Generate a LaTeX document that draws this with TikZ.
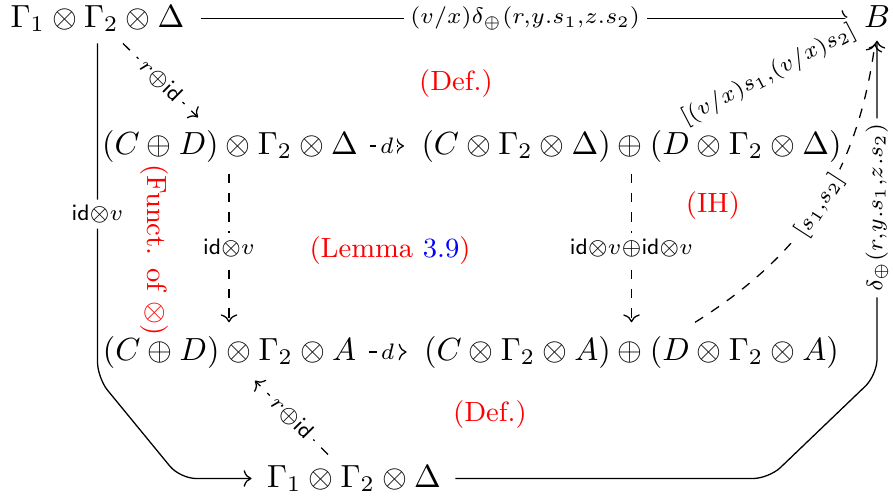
\documentclass[tikz,border=0pt]{standalone}
\usetikzlibrary{arrows.meta,calc}
\begin{document}
\begin{tikzpicture}[x=0.3125pt,y=-0.3125pt,
  >={To},
  obj/.style={anchor=base,inner sep=0pt},
  lab/.style={fill=white,inner sep=1.7pt,anchor=center},
  note/.style={text=red,inner sep=0pt,font=\fontsize{8.7}{10}\selectfont},
  dsh/.style={->,dashed}]
\useasboundingbox (0,0) rectangle (893,502);
% objects
\node[obj] (TL) at (97.5,27) {$\Gamma_1\otimes\Gamma_2\otimes\Delta$};
\node[obj] (B) at (877,27) {$B$};
\node[obj] (L2) at (230,154) {$(C\oplus D)\otimes\Gamma_2\otimes\Delta$};
\node[obj] (R2) at (631.5,154) {$(C\otimes\Gamma_2\otimes\Delta)\oplus(D\otimes\Gamma_2\otimes\Delta)$};
\node[obj] (L3) at (229.5,360) {$(C\oplus D)\otimes\Gamma_2\otimes A$};
\node[obj] (R3) at (631.5,360) {$(C\otimes\Gamma_2\otimes A)\oplus(D\otimes\Gamma_2\otimes A)$};
\node[obj] (BT) at (354,487) {$\Gamma_1\otimes\Gamma_2\otimes\Delta$};
% top arrow
\draw[->] ($(TL.east)+(16,0)$) -- node[lab,inner sep=2.15pt]{$\scriptstyle (v/x)\delta_\oplus(r,y.s_1,z.s_2)$} ($(TL.east -| B.west)+(-14,0)$);
% r+id top
\draw[dsh] ($(TL.south)+(25.5,11)$) -- node[lab,sloped]{$\scriptstyle r\oplus\mathsf{id}$} ($(L2.north)+(-32,-12)$);
% d arrows
\draw[dsh] ($(L2.east)+(11,0)$) -- node[lab,inner sep=1.2pt]{$\scriptstyle d$} ($(R2.west)+(-17,0)$);
\draw[dsh] ($(L3.east)+(12,0)$) -- node[lab,inner sep=1.2pt]{$\scriptstyle d$} ($(R3.west)+(-17,0)$);
% verticals
\draw[dsh] ($(L2.south)+(-1,11)$) -- node[lab]{$\scriptstyle\mathsf{id}\otimes v$} ($(L3.north)+(-0.5,-13)$);
\draw[dsh] ($(R2.south)+(0,11)$) -- node[lab]{$\scriptstyle\mathsf{id}\otimes v\oplus\mathsf{id}\otimes v$} ($(R3.north)+(0,-13)$);
% r+id bottom
\draw[dsh] ($(BT.north)+(-26,-10)$) -- node[lab,sloped]{$\scriptstyle r\oplus\mathsf{id}$} ($(L3.south)+(25.5,12)$);
% left outer path
\draw[->,rounded corners=5pt] ($(TL.south)+(0,11)$) -- node[lab,pos=0.51]{$\scriptstyle\mathsf{id}\otimes v$} (97.5,378) -- (180,478.5) -- ($(BT.west)+(-15,0)$);
% right outer path
\draw[->,rounded corners=5pt] ($(BT.east)+(14,0)$) -- (769,478.5) -- (877,375) -- node[lab,rotate=90]{$\scriptstyle\delta_\oplus(r,y.s_1,z.s_2)$} ($(B.south)+(0,13)$);
% dashed curve
\draw[dsh] ($(R3.north)+(63.5,-13)$) to[bend right=25] node[lab,sloped]{$\scriptstyle[s_1,s_2]$} ($(B.south)+(-2,16)$);
% hidden line with label
\draw ($(R2.north)+(55.5,-12)$) -- node[lab,sloped,inner sep=1pt]{$\scriptstyle[(v/x)s_1,(v/x)s_2]$} ($(B.west)+(-13,16)$);
% notes
\node[note] (def1) at (456,84) {(Def.)};
\node[note] (lem) at (390,251) {(Lemma \textcolor{blue}{3.9})};
\node[note,rotate=-90] (funct) at (154,250) {(Funct. of $\otimes$)};
\node[note] (ih) at (713,206) {(IH)};
\node[note] (def2) at (490,415) {(Def.)};
\end{tikzpicture}
\end{document}
